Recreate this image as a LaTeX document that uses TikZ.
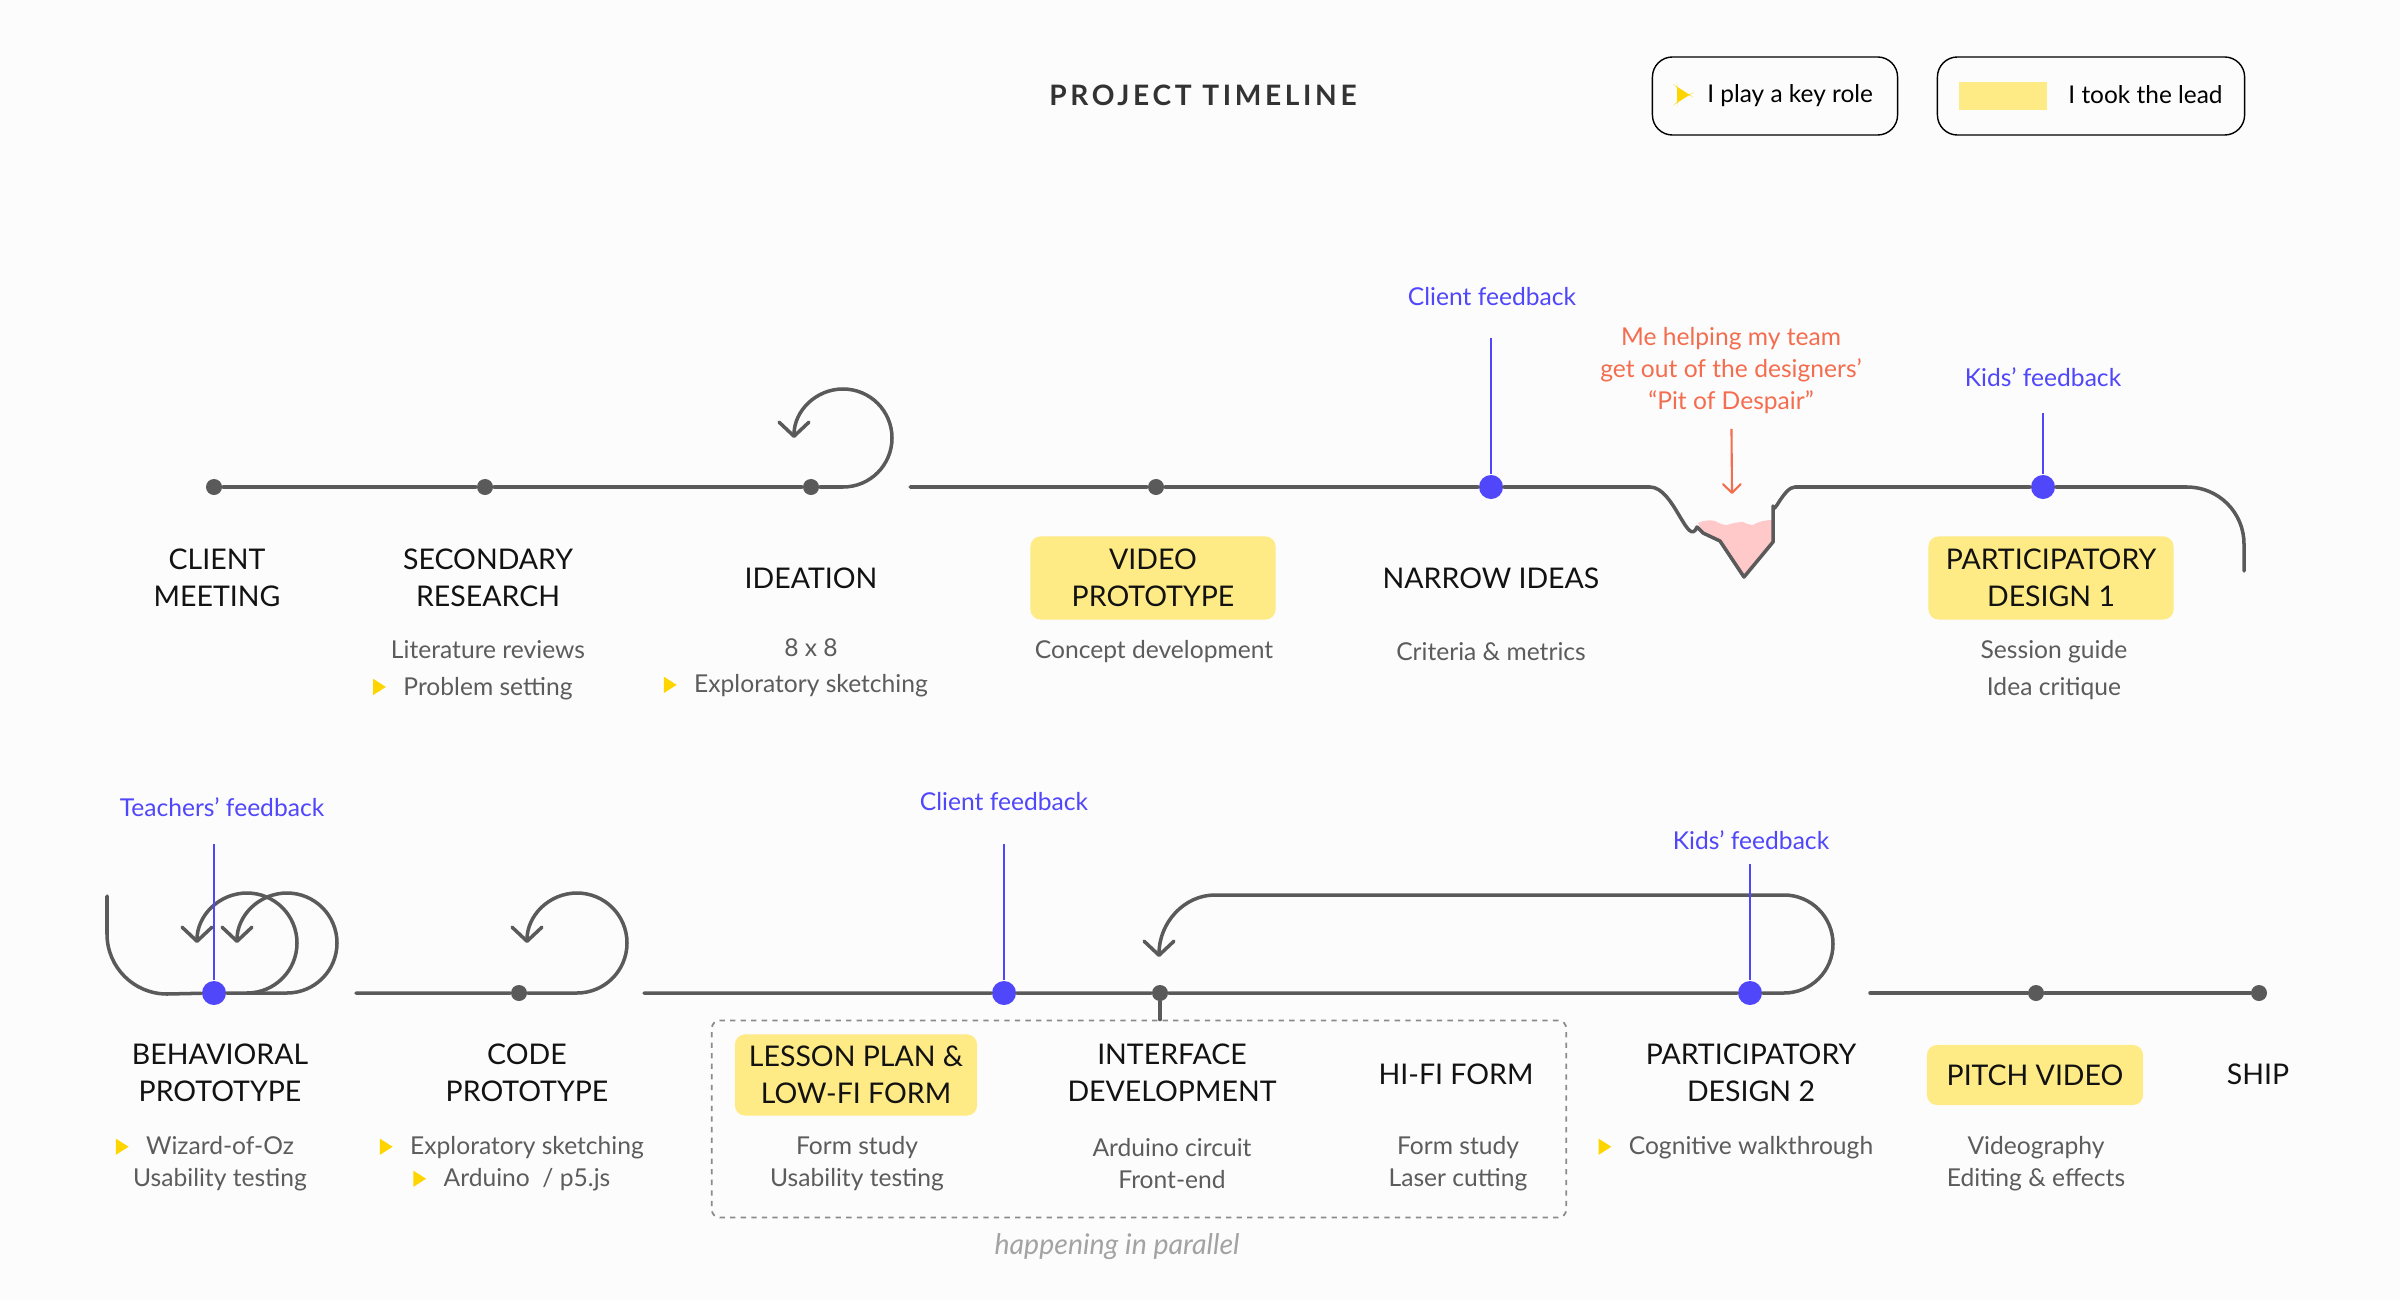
\documentclass[tikz,border=0pt]{standalone}
\usepackage{fontspec}
\setmainfont{Lato}
\usetikzlibrary{arrows.meta,positioning,calc}
\definecolor{paper}{HTML}{FCFCFC}
\definecolor{linegray}{HTML}{5A5A5A}
\definecolor{textgray}{HTML}{5C5C5C}
\definecolor{fbblue}{HTML}{5046FA}
\definecolor{pitorange}{HTML}{F46D4E}
\definecolor{pitpink}{HTML}{FFC9C9}
\definecolor{leadyellow}{HTML}{FFEB85}
\definecolor{keyyellow}{HTML}{FFD500}
\definecolor{notegray}{HTML}{A3A3A3}

\newcommand{\keytri}{\tikz[x=1pt,y=1pt,baseline=0pt]\fill[keyyellow] (0,0) -- (3.6,2.3) -- (0,4.6) -- cycle;}
\newcommand{\keymark}{\llap{\keytri\hspace{5pt}}}

\begin{document}
\begin{tikzpicture}[x=0.01cm, y=-0.01cm,
  tl/.style={draw=linegray, line width=1pt, line cap=round, line join=round},
  backarrow/.style={tl, -{Straight Barb[length=4pt, width=8.5pt, round]}},
  dot/.style={circle, fill=linegray, inner sep=0pt, minimum size=0.16cm},
  fbdot/.style={circle, fill=fbblue, inner sep=0pt, minimum size=0.24cm},
  fbline/.style={draw=fbblue, line width=0.6pt},
  fbtext/.style={text=fbblue, inner sep=0pt, font=\fontsize{7}{8.5}\selectfont},
  phase/.style={align=center, inner sep=0pt, text=black!93, font=\fontsize{8.1}{10.6}\selectfont},
  lead/.style={phase, fill=leadyellow, rounded corners=0.1cm, minimum width=2.45cm, minimum height=0.83cm},
  detail/.style={align=center, inner sep=0pt, text=textgray, font=\fontsize{7}{10.4}\selectfont},
  lowdetail/.style={detail, font=\fontsize{7}{9.1}\selectfont},
  legend/.style={draw=black, line width=0.4pt, rounded corners=0.2cm, minimum height=0.78cm, font=\fontsize{6.95}{8}\selectfont},
  parallelbox/.style={draw=linegray!70, line width=0.5pt, dash pattern=on 1.5pt off 1.5pt, rounded corners=0.08cm}
]
  \fill[paper] (0,0) rectangle (2400,1300);
  \useasboundingbox (0,0) rectangle (2400,1300);

  \node[text=black!80, font=\fontsize{8}{10}\selectfont\bfseries\addfontfeatures{LetterSpace=13}] (title) at (1203,95) {PROJECT TIMELINE};
  \node[legend, minimum width=2.45cm] (keyrole) at (1775,96) {\keytri\hspace{5pt}I play a key role};
  \node[legend, minimum width=3.07cm] (tooklead) at (2091,96) {\textcolor{leadyellow}{\rule[-2pt]{25pt}{8pt}}\hspace{6pt}I took the lead};

  \node[dot] (meetdot) at (214,487) {};
  \node[dot] (researchdot) at (485,487) {};
  \node[dot] (ideatedot) at (811,487) {};
  \node[dot] (videodot) at (1156,487) {};
  \node[fbdot] (narrowdot) at (1491,487) {};
  \node[fbdot] (kidsdot) at (2043,487) {};

  \node[phase] (meet) at (217,578) {CLIENT\\MEETING};
  \node[phase] (research) at (488,578) {SECONDARY\\RESEARCH};
  \node[phase] (ideate) at (811,578) {IDEATION};
  \node[lead] (video) at (1153,578) {VIDEO\\PROTOTYPE};
  \node[phase] (narrow) at (1491,578) {NARROW IDEAS};
  \node[lead] (pd1) at (2051,578) {PARTICIPATORY\\DESIGN 1};

  \node[detail] (researchnote) at (488,670) {Literature reviews\\\keymark Problem setting};
  \node[detail] (ideatenote) at (811,668) {8 x 8\\\keymark Exploratory sketching};
  \node[detail] (videonote) at (1154,652) {Concept development};
  \node[detail] (narrownote) at (1491,652) {Criteria \& metrics};
  \node[detail] (pd1note) at (2054,670) {Session guide\\Idea critique};

  \node[fbtext] (narrowfb) at (1492,297) {Client feedback};
  \node[fbtext] (kidsfb) at (2043,377) {Kids’ feedback};
  \node[align=center, inner sep=0pt, text=pitorange, font=\fontsize{7}{9.1}\selectfont] (pitnote) at (1731,371) {Me helping my team\\get out of the designers’\\“Pit of Despair”};
  \coordinate (pithint) at (1732,494);

  \fill[pitpink] (1698,523) .. controls (1704,520) and (1710,520) .. (1715,521) .. controls (1720,524) and (1724,525) .. (1727,525) .. controls (1733,523) and (1738,522) .. (1743,522) .. controls (1747,524) and (1750,525) .. (1753,525) .. controls (1757,522) and (1765,520) .. (1773,520) -- (1773,542) -- (1744,577) -- (1720,541) -- (1703,533) -- cycle;

  \coordinate (ideaturn) at (843,487);
  \draw[backarrow] (meetdot) -- (researchdot) -- (ideatedot) -- (ideaturn) arc[start angle=90, end angle=-180, radius=49];
  \coordinate (top2start) at (910,487);
  \coordinate (pitedge) at (1650,487);
  \draw[tl] (top2start) -- (videodot) -- (narrowdot) -- (pitedge) to[out=0, in=248] (1697,527) -- (1703,533) -- (1720,541) -- (1744,577) -- (1773,542) -- (1773,506) to[out=-90, in=180] (1795,487) -- (kidsdot) -- (2187,487) arc[start angle=-90, end angle=0, radius=57] -- (2244,571);

  \draw[fbline, shorten <=0.31cm] (narrowfb.south -| narrowdot) -- (narrowdot);
  \draw[fbline, shorten <=0.26cm] (kidsfb.south -| kidsdot) -- (kidsdot);
  \draw[pitorange, line width=0.6pt, shorten <=0.14cm, -{Straight Barb[length=2.5pt, width=5pt, round]}] (pitnote) -- (pithint);

  \node[fbdot] (behavdot) at (214,993) {};
  \node[dot] (codedot) at (519,993) {};
  \node[fbdot] (lessondot) at (1004,993) {};
  \node[dot] (ifacedot) at (1160,993) {};
  \node[fbdot] (pd2dot) at (1750,993) {};
  \node[dot] (pitchdot) at (2036,993) {};
  \node[dot] (shipdot) at (2259,993) {};

  \node[phase] (behav) at (220,1073) {BEHAVIORAL\\PROTOTYPE};
  \node[phase] (code) at (527,1073) {CODE\\PROTOTYPE};
  \node[lead, minimum width=2.42cm, minimum height=0.81cm] (lesson) at (856,1075) {LESSON PLAN \&\\LOW-FI FORM};
  \node[phase] (iface) at (1172,1073) {INTERFACE\\DEVELOPMENT};
  \node[phase] (hifi) at (1456,1074) {HI-FI FORM};
  \node[phase] (pd2) at (1751,1073) {PARTICIPATORY\\DESIGN 2};
  \node[lead, minimum width=2.16cm, minimum height=0.6cm] (pitch) at (2035,1075) {PITCH VIDEO};
  \node[phase] (ship) at (2258,1074) {SHIP};

  \node[lowdetail] (behavnote) at (220,1164) {\keymark Wizard-of-Oz\\Usability testing};
  \node[lowdetail] (codenote) at (527,1164) {\keymark Exploratory sketching\\\keymark Arduino\ \ / p5.js};
  \node[lowdetail] (lessonnote) at (857,1164) {Form study\\Usability testing};
  \node[lowdetail] (ifacenote) at (1172,1164) {Arduino circuit\\Front-end};
  \node[lowdetail] (hifinote) at (1458,1164) {Form study\\Laser cutting};
  \node[lowdetail] (pd2note) at (1751,1148) {\keymark Cognitive walkthrough};
  \node[lowdetail] (pitchnote) at (2036,1164) {Videography\\Editing \& effects};

  \node[parallelbox, minimum width=8.54cm, minimum height=1.97cm] (parallel) at (1139,1119) {};
  \node[text=notegray, font=\fontsize{8.1}{9}\selectfont\itshape] (parnote) at (1117,1247) {happening in parallel};

  \node[fbtext] (teachfb) at (222,807) {Teachers’ feedback};
  \node[fbtext] (lessonfb) at (1004,802) {Client feedback};
  \node[fbtext] (pd2fb) at (1751,840) {Kids’ feedback};

  \coordinate (behavtop) at (107,896);
  \draw[tl] (behavtop) -- (107,934) arc[start angle=180, end angle=90, radius=60] -- (behavdot);
  \coordinate (behavturn) at (247,993);
  \draw[backarrow] (behavdot) -- (behavturn) arc[start angle=90, end angle=-180, radius=50];
  \draw[backarrow] (behavturn) -- (287,993) arc[start angle=90, end angle=-180, radius=50];

  \coordinate (bot2start) at (356,993);
  \coordinate (codeturn) at (577,993);
  \draw[backarrow] (bot2start) -- (codedot) -- (codeturn) arc[start angle=90, end angle=-180, radius=50];

  \coordinate (bot3start) at (644,993);
  \coordinate (pdturn) at (1784,993);
  \draw[backarrow] (bot3start) -- (lessondot) -- (ifacedot) -- (pd2dot) -- (pdturn) arc[start angle=90, end angle=-90, radius=49] -- (1215,895) arc[start angle=-90, end angle=-180, x radius=56, y radius=62];
  \draw[tl] (ifacedot) -- (ifacedot |- parallel.north);

  \coordinate (bot4start) at (1870,993);
  \draw[tl] (bot4start) -- (pitchdot) -- (shipdot);

  \draw[fbline, shorten <=0.27cm] (teachfb.south -| behavdot) -- (behavdot);
  \draw[fbline, shorten <=0.32cm] (lessonfb.south -| lessondot) -- (lessondot);
  \draw[fbline, shorten <=0.14cm] (pd2fb.south -| pd2dot) -- (pd2dot);
\end{tikzpicture}
\end{document}
